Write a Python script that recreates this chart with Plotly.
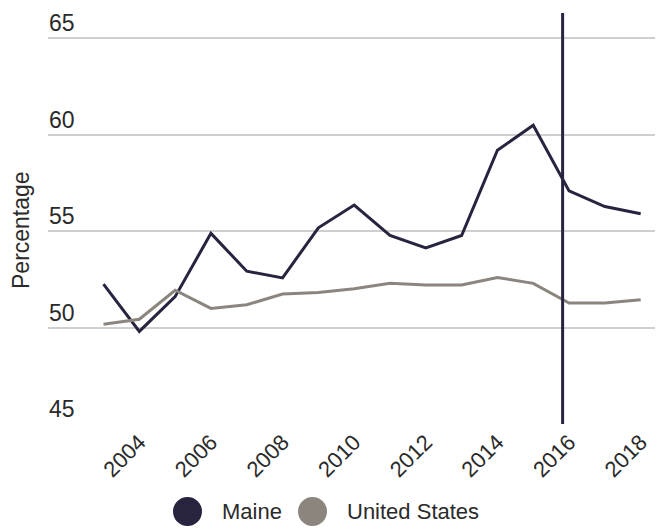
import plotly.graph_objects as go

years = list(range(2003, 2019))
maine = [52.25, 49.8, 51.6, 54.88, 52.92, 52.57, 55.17, 56.35, 54.77, 54.13, 54.77, 59.19, 60.48, 57.08, 56.27, 55.9]
united_states = [50.17, 50.43, 51.93, 50.99, 51.18, 51.74, 51.82, 52.01, 52.29, 52.2, 52.2, 52.59, 52.29, 51.27, 51.27, 51.44]
series_names = ["Maine", "United States"]
series_colors = ["#28233f", "#8b857d"]
x_ticks = [2004, 2006, 2008, 2010, 2012, 2014, 2016, 2018]
y_ticks = [45, 50, 55, 60, 65]
y_title = "Percentage"
marker_year = 2015.82

font_family = "Liberation Sans, Arial, sans-serif"
text_color = "#2a2a2a"

OFF = 8  # page body margin
W, H = 669 - OFF, 529 - OFF
ML, MR, MT, MB = 48 - OFF, 14, 13 - OFF, 105
PW, PH = W - ML - MR, H - MT - MB


def px_to_paper(px, py):
    fx, fy = px - OFF, py - OFF
    return (fx - ML) / PW, (H - MB - fy) / PH


fig = go.Figure()
for name, vals, col in zip(series_names, [maine, united_states], series_colors):
    fig.add_trace(go.Scatter(x=years, y=vals, mode="lines", name=name,
                             line=dict(color=col, width=3), showlegend=False))

fig.add_shape(type="line", xref="x", yref="paper", x0=marker_year, x1=marker_year,
              y0=0, y1=1, line=dict(color="#28233f", width=3))

# y tick labels sitting above their gridlines
annotations = []
for v in y_ticks:
    annotations.append(dict(x=0, xref="paper", y=v, yref="y", text=str(v),
                            showarrow=False, xanchor="left", yanchor="bottom",
                            yshift=1, borderpad=0, font=dict(size=23, color=text_color)))

# y axis title
tx_, ty_ = px_to_paper(21, 230)
annotations.append(dict(x=tx_, xref="paper", y=ty_, yref="paper", text=y_title,
                        textangle=-90, showarrow=False, xanchor="center", yanchor="middle",
                        font=dict(size=23, color=text_color)))

# legend (large circles)
legend_items = [(187.5, 220), (312.5, 345)]
for (cx, tx), name, col in zip(legend_items, series_names, series_colors):
    pcx, pcy = px_to_paper(cx, 511.5)
    fig.add_shape(type="circle", xref="paper", yref="paper", xsizemode="pixel",
                  ysizemode="pixel", xanchor=pcx, yanchor=pcy, x0=-14.5, x1=14.5,
                  y0=-14.5, y1=14.5, fillcolor=col, line=dict(width=0))
    ptx, pty = px_to_paper(tx, 511)
    annotations.append(dict(x=ptx, xref="paper", y=pty, yref="paper", text=name,
                            showarrow=False, xanchor="left", yanchor="middle",
                            font=dict(size=22, color=text_color)))

fig.update_layout(
    width=W, height=H,
    margin=dict(l=ML, r=MR, t=MT, b=MB),
    plot_bgcolor="white", paper_bgcolor="white",
    font=dict(family=font_family, color=text_color, size=22),
    showlegend=False,
    annotations=annotations,
    xaxis=dict(range=[2001.45, 2018.4], tickvals=x_ticks, ticktext=[str(t) for t in x_ticks],
               tickangle=-45, showgrid=False, zeroline=False, showline=False,
               ticks="", tickfont=dict(size=22), automargin=False),
    yaxis=dict(range=[45, 66.3], tickvals=y_ticks, showticklabels=False,
               showgrid=True, gridcolor="#cfcfcf", gridwidth=2, zeroline=False,
               showline=False, ticks="", automargin=False),
)

fig.write_html("out.html")
